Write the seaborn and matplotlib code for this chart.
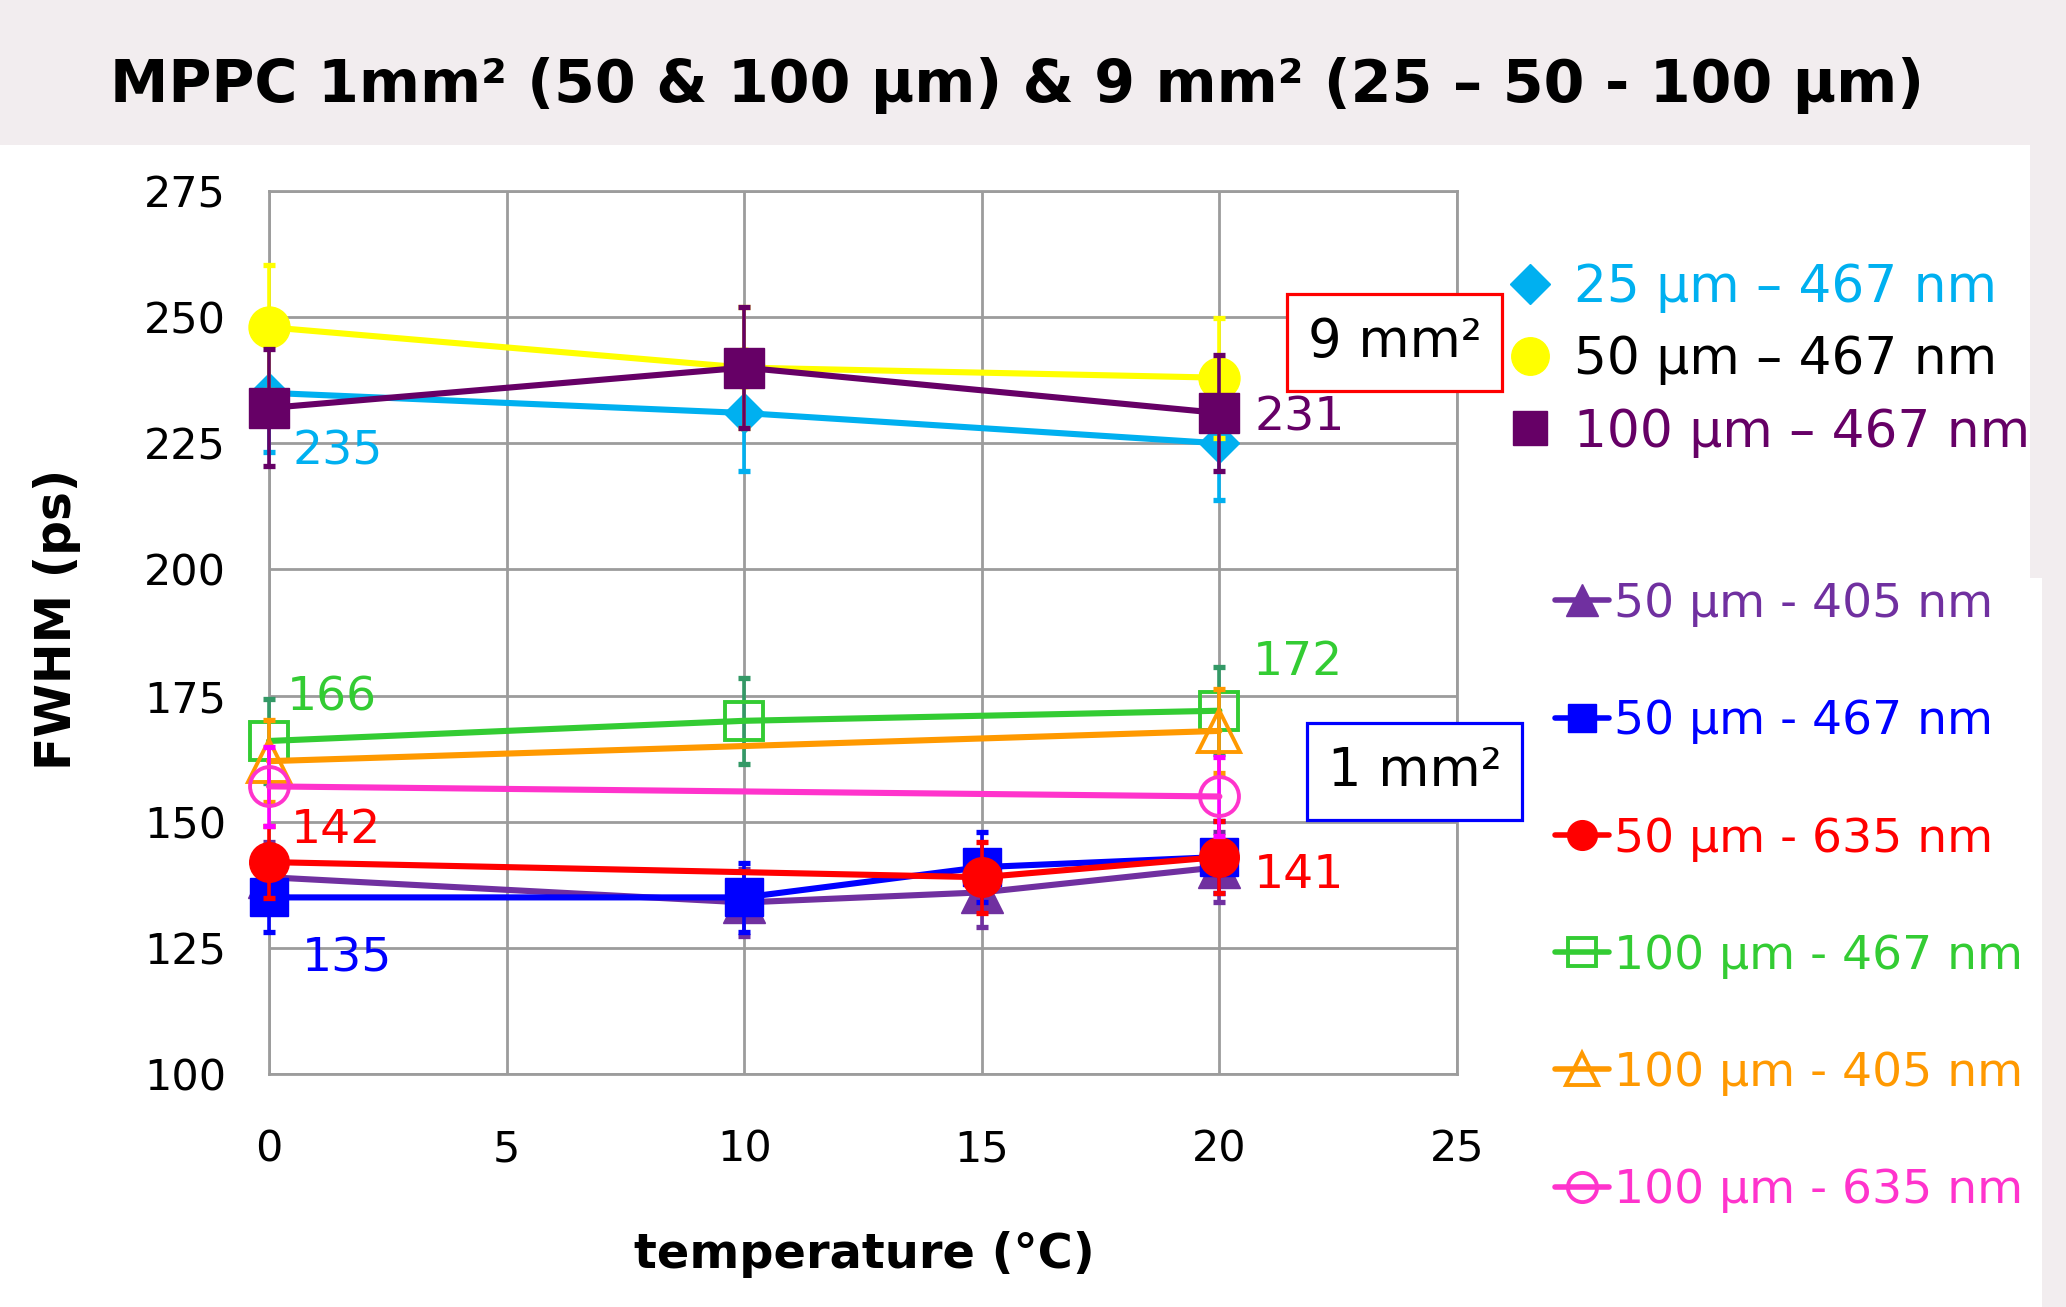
import numpy as np
import pandas as pd
import matplotlib
matplotlib.use("Agg")
import matplotlib.pyplot as plt
from matplotlib.lines import Line2D
from matplotlib.patches import Rectangle
import seaborn as sns

# ---------------- data ----------------
temp_9mm = [0, 10, 20]
fwhm_25um_467_9mm = [235, 231, 225]
err_25um_467_9mm = [11.7, 11.5, 11.3]
fwhm_50um_467_9mm = [248, 240, 238]
err_50um_467_9mm = [12.4, 12.0, 11.9]
fwhm_100um_467_9mm = [232, 240, 231]
err_100um_467_9mm = [11.6, 12.0, 11.5]

temp_50um_1mm = [0, 10, 15, 20]
fwhm_50um_405 = [139, 134, 136, 141]
err_50um_405 = [7.0, 6.7, 6.8, 7.0]
fwhm_50um_467 = [135, 135, 141, 143]
err_50um_467 = [6.8, 6.8, 7.0, 7.2]
temp_50um_635 = [0, 15, 20]
fwhm_50um_635 = [142, 139, 143]
err_50um_635 = [7.1, 7.0, 7.2]

temp_100um_467 = [0, 10, 20]
fwhm_100um_467 = [166, 170, 172]
err_100um_467 = [8.3, 8.5, 8.6]
temp_100um_other = [0, 20]
fwhm_100um_405 = [162, 168]
err_100um_405 = [8.1, 8.4]
fwhm_100um_635 = [157, 155]
err_100um_635 = [7.8, 7.8]

labels_9mm = ["25 µm – 467 nm", "50 µm – 467 nm", "100 µm – 467 nm"]
labels_1mm = ["50 µm - 405 nm", "50 µm - 467 nm", "50 µm - 635 nm",
              "100 µm - 467 nm", "100 µm - 405 nm", "100 µm - 635 nm"]

x_ticks = [0, 5, 10, 15, 20, 25]
y_ticks = [100, 125, 150, 175, 200, 225, 250, 275]

# ---------------- style ----------------
sns.set_style("white")
plt.rcParams["font.family"] = ["DejaVu Sans"]
plt.rcParams["text.color"] = "black"
plt.rcParams["axes.labelcolor"] = "black"

W, H = 2066, 1307
fig = plt.figure(figsize=(W / 100, H / 100), dpi=100, facecolor="#f2edef")

# white panel below title band
fig.patches.append(Rectangle((0, 0), 2030 / W, 1 - 145 / H, transform=fig.transFigure,
                             facecolor="white", edgecolor="none", zorder=-10))
fig.patches.append(Rectangle((0, 0), 2042 / W, 1 - 578 / H, transform=fig.transFigure,
                             facecolor="white", edgecolor="none", zorder=-10))

left, right = 269 / W, 1457 / W
bottom, top = 1 - 1074 / H, 1 - 191 / H
ax = fig.add_axes([left, bottom, right - left, top - bottom])
ax.set_facecolor("white")

GRID = "#9c9c9c"

series = [
    # x, y, err, color, errcolor, marker, ms, mfc, mew, label
    (temp_50um_1mm, fwhm_50um_405, err_50um_405, "#7030a0", "#7030a0", "^", 30, "#7030a0", 1, labels_1mm[0]),
    (temp_50um_1mm, fwhm_50um_467, err_50um_467, "#0000ff", "#0000ff", "s", 27.5, "#0000ff", 1, labels_1mm[1]),
    (temp_50um_635, fwhm_50um_635, err_50um_635, "#ff0000", "#ff0000", "o", 28.5, "#ff0000", 1, labels_1mm[2]),
    (temp_100um_467, fwhm_100um_467, err_100um_467, "#33cc33", "#339966", "s", 27, "none", 2.8, labels_1mm[3]),
    (temp_100um_other, fwhm_100um_405, err_100um_405, "#ff9900", "#ff9900", "^", 30, "none", 2.8, labels_1mm[4]),
    (temp_100um_other, fwhm_100um_635, err_100um_635, "#ff33cc", "#ff00ff", "o", 28, "none", 2.8, labels_1mm[5]),
    (temp_9mm, fwhm_25um_467_9mm, err_25um_467_9mm, "#00b0f0", "#00b0f0", "D", 20, "#00b0f0", 1, labels_9mm[0]),
    (temp_9mm, fwhm_50um_467_9mm, err_50um_467_9mm, "#ffff00", "#ffff00", "o", 29.5, "#ffff00", 1, labels_9mm[1]),
    (temp_9mm, fwhm_100um_467_9mm, err_100um_467_9mm, "#660066", "#660066", "s", 28.5, "#660066", 1, labels_9mm[2]),
]

z = 3
for (xs, ys, es, col, ecol, mk, ms, mfc, mew, lab) in series:
    ax.errorbar(xs, ys, yerr=es, fmt="none", ecolor=ecol, elinewidth=2.6,
                capsize=4.5, capthick=3.8, zorder=z, clip_on=False)
    df = pd.DataFrame({"x": xs, "y": ys})
    sns.lineplot(data=df, x="x", y="y", ax=ax, color=col, linewidth=4.4,
                 marker=mk, markersize=ms, markerfacecolor=mfc,
                 markeredgecolor=col, markeredgewidth=mew, zorder=z + 1,
                 legend=False, sort=False, clip_on=False)
    z += 2

ax.set_xlim(0, 25)
ax.set_ylim(100, 275)
ax.set_xticks(x_ticks)
ax.set_yticks(y_ticks)
ax.grid(True, color=GRID, linewidth=2)
ax.set_axisbelow(True)
for sp in ax.spines.values():
    sp.set_visible(True)
    sp.set_color(GRID)
    sp.set_linewidth(2)
ax.tick_params(axis="x", length=9, width=2, color=GRID, pad=30, labelsize=31, labelcolor="black")
ax.tick_params(axis="y", length=9, width=2, color=GRID, pad=22, labelsize=31, labelcolor="black")

ax.set_xlabel("temperature (°C)", fontsize=34.5, fontweight="bold", color="black")
ax.set_ylabel("FWHM (ps)", fontsize=35, fontweight="bold", color="black")
ax.xaxis.label.set_va("center")
ax.yaxis.label.set_va("center")
ax.xaxis.set_label_coords((864 - 269) / 1188, (1074 - 1254) / 883)
ax.yaxis.set_label_coords((57 - 269) / 1188, (1074 - 619) / 883)

# title
fig.text(1017 / W, 1 - 86 / H, "MPPC 1mm² (50 & 100 µm) & 9 mm² (25 – 50 - 100 µm)",
         ha="center", va="center", fontsize=42.3, fontweight="bold", color="black")

# data labels
def lab(txt, x, y, dx, dy, col):
    ax.annotate(txt, xy=(x, y), xytext=(dx, dy), textcoords="offset points",
                ha="left", va="center", fontsize=34, color=col, zorder=30)

lab("235", temp_9mm[0], fwhm_25um_467_9mm[0], 16.6, -42.5, "#00b0f0")
lab("231", temp_9mm[2], fwhm_100um_467_9mm[2], 25, -3.6, "#660066")
lab("166", temp_100um_467[0], fwhm_100um_467[0], 13, 31, "#33cc33")
lab("172", temp_100um_467[2], fwhm_100um_467[2], 24, 34.6, "#33cc33")
lab("142", temp_50um_635[0], fwhm_50um_635[0], 15.8, 23, "#ff0000")
lab("141", temp_50um_635[2], fwhm_50um_635[2], 25, -13, "#ff0000")
lab("135", temp_50um_1mm[0], fwhm_50um_467[0], 23.8, -44, "#0000ff")

# boxes
for (x0, y0, x1, y1, ec, txt) in [(1287, 294, 1502, 391, "#ff0000", "9 mm²"),
                                  (1307, 723, 1522, 820, "#0000ff", "1 mm²")]:
    fig.patches.append(Rectangle((x0 / W, 1 - y1 / H), (x1 - x0) / W, (y1 - y0) / H,
                                 transform=fig.transFigure, facecolor="white",
                                 edgecolor=ec, linewidth=2.3, zorder=40))
    fig.text((x0 + x1) / 2 / W, 1 - (y0 + y1) / 2 / H, txt, ha="center", va="center",
             fontsize=38, color="black", zorder=41)

# legend group 1 (9 mm²)
h9 = [Line2D([], [], linestyle="none", marker="D", ms=20, color="#00b0f0"),
      Line2D([], [], linestyle="none", marker="o", ms=27, color="#ffff00"),
      Line2D([], [], linestyle="none", marker="s", ms=24, color="#660066")]
leg1 = fig.legend(handles=h9, labels=labels_9mm, loc="upper left",
                  bbox_to_anchor=(1505 / W, 1 - 263 / H), bbox_transform=fig.transFigure,
                  frameon=False, fontsize=37.3, labelcolor=["#00b0f0", "black", "#660066"],
                  handlelength=0.97, handletextpad=0.37, labelspacing=0.43,
                  borderpad=0, borderaxespad=0, numpoints=1)

# legend group 2 (1 mm²)
h1 = []
for (xs, ys, es, col, ecol, mk, ms, mfc, mew, labl) in series[:6]:
    h1.append(Line2D([], [], color=col, linewidth=4.0, marker=mk,
                     ms=ms * 0.75, markerfacecolor=mfc, markeredgecolor=col,
                     markeredgewidth=mew))
leg2 = fig.legend(handles=h1, labels=labels_1mm, loc="upper left",
                  bbox_to_anchor=(1555 / W, 1 - 582 / H), bbox_transform=fig.transFigure,
                  frameon=False, fontsize=34,
                  labelcolor=["#7030a0", "#0000ff", "#ff0000", "#33cc33", "#ff9900", "#ff33cc"],
                  handlelength=1.15, handletextpad=0.1, labelspacing=1.53,
                  borderpad=0, borderaxespad=0, numpoints=1)

fig.savefig("out.png", dpi=100, facecolor=fig.get_facecolor())
